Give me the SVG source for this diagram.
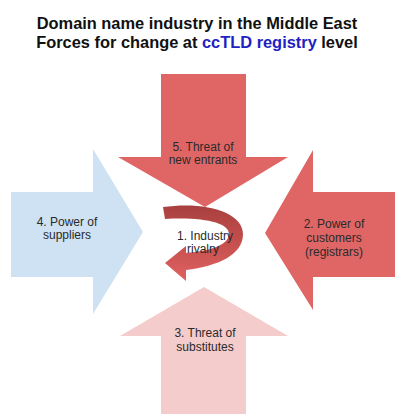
<svg xmlns="http://www.w3.org/2000/svg" width="395" height="414" viewBox="0 0 395 414">
  <defs>
    <linearGradient id="rivGrad" x1="0" y1="0" x2="0" y2="1">
      <stop offset="0" stop-color="#a8403f"/>
      <stop offset="0.45" stop-color="#c24e4c"/>
      <stop offset="1" stop-color="#e06262"/>
    </linearGradient>
  </defs>
  <style>
    .title { font-family: "Liberation Sans", Arial, sans-serif; font-weight: bold; font-size: 16.4px; fill: #111; text-anchor: middle; }
    .blue { fill: #1f1fc4; }
    .lbl { font-family: "Liberation Sans", Arial, sans-serif; font-size: 12px; fill: #2a2a2a; text-anchor: middle; }
    .red { fill: #e06666; }
    .pink { fill: #f4cccc; }
    .blueA { fill: #cfe2f3; }
  </style>
  <rect width="395" height="414" fill="#ffffff"/>
  <g id="title">
    <text class="title" x="197" y="29">Domain name industry in the Middle East</text>
    <text class="title" x="197" y="48">Forces for change at <tspan class="blue">ccTLD registry</tspan> level</text>
  </g>
  <g id="suppliers">
    <polygon class="blueA" points="11,192 93,192 93,149 143,232 93,314 93,277 11,277"/>
    <text class="lbl" x="67" y="226">4. Power of</text>
    <text class="lbl" x="67" y="239">suppliers</text>
  </g>
  <g id="customers">
    <polygon class="red" points="395,192 313,192 313,150 265,233 313,310 313,277 395,277"/>
    <text class="lbl" x="334" y="228">2. Power of</text>
    <text class="lbl" x="334" y="242">customers</text>
    <text class="lbl" x="334" y="256">(registrars)</text>
  </g>
  <g id="substitutes">
    <polygon class="pink" points="161,414 161,336 120,336 204,287 288,336 246,336 246,414"/>
    <text class="lbl" x="205" y="337">3. Threat of</text>
    <text class="lbl" x="205" y="351">substitutes</text>
  </g>
  <g id="entrants">
    <polygon class="red" points="161,74 246,74 246,157 288,157 205,207 118,157 161,157"/>
    <text class="lbl" x="203" y="151">5. Threat of</text>
    <text class="lbl" x="203" y="164">new entrants</text>
  </g>
  <g id="rivalry">
    <path fill="url(#rivGrad)" d="M163,207 C205,201 243,212 243,234 C243,255 218,266 186,270 L186,281 L165,263 L186,246 L186,253 C212,251 229,244 229,234 C229,223 205,217 165,219 Z"/>
    <text class="lbl" x="205" y="240">1. Industry</text>
    <text class="lbl" x="203" y="253">rivalry</text>
  </g>
  <g id="connectors"/>
</svg>
